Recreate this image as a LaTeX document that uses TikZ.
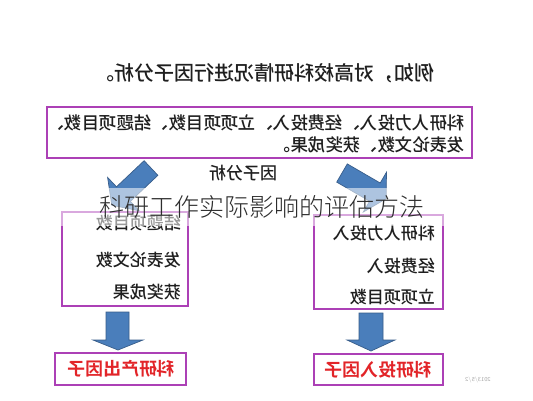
\documentclass[tikz,border=0pt]{standalone}
\usepackage{graphicx}
\usepackage{fontspec}
\newfontfamily\cjk{Noto Sans CJK SC Medium}
\newfontfamily\cjkb{Noto Sans CJK SC Bold}
\newfontfamily\cjkl{Noto Sans CJK SC Light}
\definecolor{boxpurple}{RGB}{172,64,182}
\definecolor{arrowblue}{RGB}{74,126,187}
\definecolor{arrowedge}{RGB}{56,93,138}
\definecolor{factorred}{RGB}{226,36,40}
\definecolor{titlegray}{RGB}{45,45,45}
\tikzset{
  box/.style={draw=boxpurple, line width=2.4pt, fill=white, inner sep=0pt},
  txt/.style={inner sep=0pt, font=\cjk\fontsize{17}{20}\selectfont, text=black!88},
  toptxt/.style={inner sep=0pt, font=\cjk\fontsize{17.4}{20}\selectfont, text=black!88},
  bigtxt/.style={inner sep=0pt, font=\cjk\fontsize{20}{22}\selectfont, text=black!88},
  factor/.style={inner sep=0pt, font=\cjkb\fontsize{17.8}{20}\selectfont, text=factorred},
  blockarrow/.style={fill=arrowblue, draw=arrowedge, line width=0.7pt, line join=miter},
}
\begin{document}
\begin{tikzpicture}[x=1pt,y=-1pt]
\useasboundingbox (0,0) rectangle (533,400);
\fill[white] (0,0) rectangle (533,400);

% heading
\node[bigtxt] (head) at (264,73) {\reflectbox{例如，对高校科研情况进行因子分析。}};

% top box
\node[box, minimum width=425pt, minimum height=51pt] (top) at (259.5,132.5) {};
\node[toptxt, anchor=east] (topl1) at (465,123) {\reflectbox{科研人力投入、经费投入、立项项目数、结题项目数、}};
\node[toptxt, anchor=east] (topl2) at (465,145) {\reflectbox{发表论文数、获奖成果。}};

% label
\node[txt] (fa) at (243,173) {\reflectbox{因子分析}};

% diagonal arrows
\draw[blockarrow] (157.9,175.3) -- (130.3,201.4) -- (139.2,210.8) -- (111.8,205.2)
  -- (107.6,177.4) -- (116.5,186.8) -- (144.1,160.7) -- cycle;
\draw[blockarrow] (336.7,182.1) -- (369.6,201.2) -- (363.3,212.0) -- (386.1,198.7)
  -- (386.5,172.2) -- (380.2,183.0) -- (347.3,163.9) -- cycle;

% left and right boxes
\node[box, minimum width=126pt, minimum height=94pt] (lbox) at (125,259) {};
\node[box, minimum width=129pt, minimum height=94pt] (rbox) at (378.5,262) {};

\node[txt, anchor=east] (l1) at (181,223) {\reflectbox{结题项目数}};
\node[txt, anchor=east] (l2) at (181,260) {\reflectbox{发表论文数}};
\node[txt, anchor=east] (l3) at (181,292) {\reflectbox{获奖成果}};

\node[txt, anchor=east] (r1) at (435,233) {\reflectbox{科研人力投入}};
\node[txt, anchor=east] (r2) at (435,266) {\reflectbox{经费投入}};
\node[txt, anchor=east] (r3) at (435,297) {\reflectbox{立项项目数}};

% down arrows
\draw[blockarrow] (106,312) -- (129,312) -- (129,340) -- (143,340) -- (118,350)
  -- (93,340) -- (106,340) -- cycle;
\draw[blockarrow] (359,313) -- (383,313) -- (383,340) -- (395,340) -- (371,351)
  -- (347,340) -- (359,340) -- cycle;

% factor boxes
\node[box, minimum width=131pt, minimum height=32pt] (lf) at (120.5,369) {};
\node[factor] (lft) at (121.5,369) {\reflectbox{科研产出因子}};
\node[box, minimum width=129pt, minimum height=31pt] (rf) at (378.5,369.5) {};
\node[factor] (rft) at (378.5,369.5) {\reflectbox{科研投入因子}};

% watermark
\node[inner sep=0pt, font=\sffamily\fontsize{6}{7}\selectfont, text=black!35] (wm) at (478,380) {\reflectbox{2013/5/2}};

% translucent band and overlay title
\fill[white, opacity=0.55] (0,188) rectangle (533,226);
\node[inner sep=0pt, font=\cjkl\fontsize{25}{28}\selectfont, text=titlegray] (title) at (262,207) {科研工作实际影响的评估方法};
\end{tikzpicture}
\end{document}
